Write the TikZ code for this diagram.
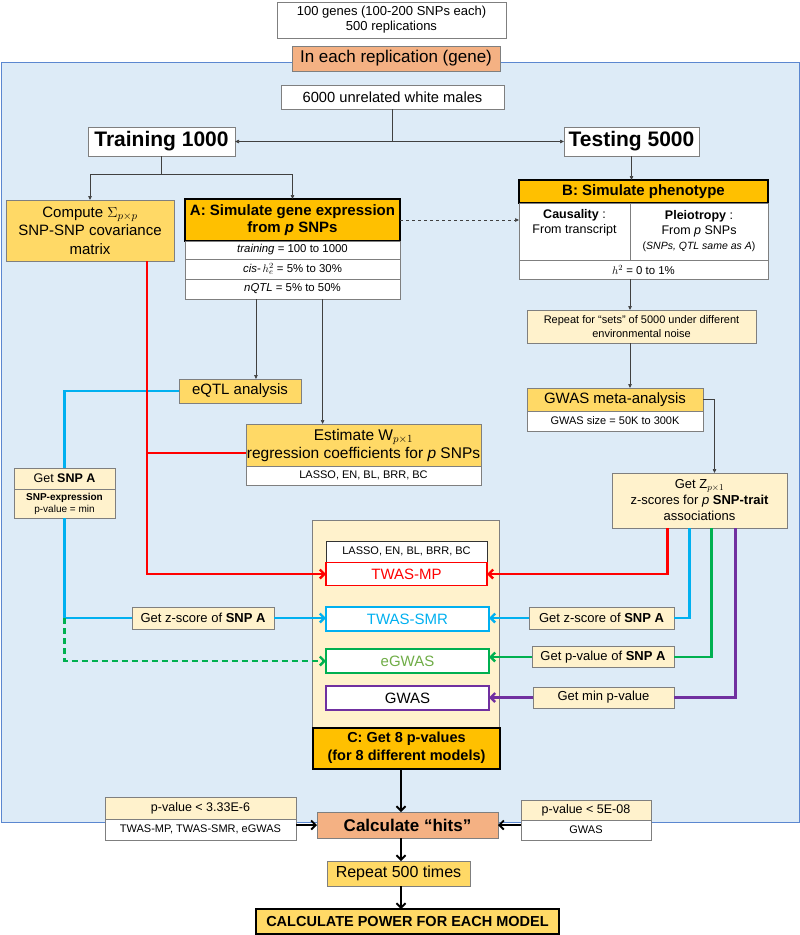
\documentclass[tikz,border=0pt]{standalone}
\usepackage{fontspec}
\setmainfont{Liberation Sans}
\usetikzlibrary{arrows.meta,calc,positioning}
\definecolor{bgblue}{HTML}{DDEBF7}
\definecolor{bgedge}{HTML}{5B87D0}
\definecolor{gold}{HTML}{FFD966}
\definecolor{amber}{HTML}{FFC000}
\definecolor{cream}{HTML}{FFF2CC}
\definecolor{salmon}{HTML}{F4B183}
\definecolor{edgegray}{HTML}{7F7F7F}
\definecolor{mpred}{HTML}{FF0000}
\definecolor{smrblue}{HTML}{00B0F0}
\definecolor{egreen}{HTML}{00B050}
\definecolor{etext}{HTML}{70AD47}
\definecolor{gpurple}{HTML}{7030A0}

\begin{document}
\begin{tikzpicture}[x=1pt,y=-1pt,
  fs/.style 2 args={font=\fontsize{#1}{#2}\selectfont},
  fsb/.style 2 args={font=\fontsize{#1}{#2}\selectfont\bfseries},
  box/.style={draw=edgegray,line width=0.9pt,inner sep=0pt,outer sep=0pt,align=center},
  heavy/.style={box,draw=black,line width=2pt},
  thinarr/.style={draw=black!75,line width=0.7pt,-{Triangle[length=4pt,width=3.5pt]}},
  thinline/.style={draw=black!75,line width=0.7pt},
  wire/.style={line width=2.4pt},
  barb/.style={-{Straight Barb[length=4.5pt,width=9pt]}},
  bigarr/.style={draw=black,line width=1.8pt,-{Straight Barb[length=4.5pt,width=9pt]}}]
\useasboundingbox (0,0) rectangle (800,935);
\node[box,fill=bgblue,draw=bgedge,line width=0.8pt,minimum width=798,minimum height=760] (frame) at (400,442) {};
\node[box,fill=white,minimum width=229,minimum height=36,fs={13}{15}] (genes) at (391.5,20) {100 genes (100-200 SNPs each)\\500 replications};
\node[box,fill=salmon,minimum width=208,minimum height=25,fs={17}{19}] (repl) at (396,58.5) {In each replication (gene)};
\node[box,fill=white,minimum width=223,minimum height=24,fs={14.7}{16}] (males) at (392.5,97) {6000 unrelated white males};
\node[box,fill=white,minimum width=147,minimum height=29,fsb={21}{23}] (training) at (161.5,141.5) {Training 1000};
\node[box,fill=white,minimum width=135,minimum height=29,fsb={21}{23}] (testing) at (631.5,141.5) {Testing 5000};
\node[box,fill=gold,minimum width=168,minimum height=61,fs={15}{18.5}] (compute) at (90,230.5) {Compute $\Sigma_{p\times p}$\\SNP-SNP covariance\\matrix};
\node[heavy,fill=amber,minimum width=215,minimum height=42,fsb={15}{17}] (ahead) at (292.5,220) {A: Simulate gene expression\\from \textit{p} SNPs};
\node[box,fill=white,minimum width=215,minimum height=18,fs={11.4}{12}] (arow1) at (292.5,250) {\textit{training} = 100 to 1000};
\node[box,fill=white,minimum width=215,minimum height=20,fs={11.4}{12}] (arow2) at (292.5,269) {\textit{cis}-\,$h^2_e$ = 5\% to 30\%};
\node[box,fill=white,minimum width=215,minimum height=20,fs={11.4}{12}] (arow3) at (292.5,289) {\textit{nQTL} = 5\% to 50\%};
\node[heavy,fill=amber,minimum width=249,minimum height=23,fsb={15}{17}] (bhead) at (643.5,191.5) {B: Simulate phenotype};
\node[box,fill=white,minimum width=111,minimum height=57,fs={12.5}{15}] (bcaus) at (574.5,231.5) {\textbf{Causality} :\\From transcript\\\strut};
\node[box,fill=white,minimum width=138,minimum height=57,fs={12.5}{15}] (bplei) at (699,231.5) {\textbf{Pleiotropy} :\\From \textit{p} SNPs\\{\fontsize{10.5}{12}\selectfont(\textit{SNPs, QTL same as A})}};
\node[box,fill=white,minimum width=249,minimum height=19,fs={11.4}{13}] (brow) at (643.5,269.5) {$h^2$ = 0 to 1\%};
\node[box,fill=cream,minimum width=229,minimum height=33,fs={11}{14}] (rep) at (641.5,326.5) {Repeat for “sets” of 5000 under different\\environmental noise};
\node[box,fill=gold,minimum width=176,minimum height=23,fs={15}{17}] (meta1) at (615,399.5) {GWAS meta-analysis};
\node[box,fill=white,minimum width=176,minimum height=20,fs={11}{13}] (meta2) at (615,421) {GWAS size = 50K to 300K};
\node[box,fill=cream,minimum width=175,minimum height=55,fs={13}{16}] (zbox) at (699.5,500.5) {Get Z$_{p\times1}$\\z-scores for \textit{p} \textbf{SNP-trait}\\associations};
\node[box,fill=gold,minimum width=122,minimum height=24,fs={15}{17}] (eqtl) at (240,391) {eQTL analysis};
\node[box,fill=gold,minimum width=235,minimum height=42,fs={15.5}{18}] (est1) at (363.5,445) {Estimate W$_{p\times1}$\\regression coefficients for \textit{p} SNPs};
\node[box,fill=white,minimum width=235,minimum height=19,fs={11}{13}] (est2) at (363.5,475.5) {LASSO, EN, BL, BRR, BC};
\node[box,fill=cream,minimum width=101,minimum height=21,fs={12.5}{15}] (snpa1) at (64.5,478.5) {Get \textbf{SNP A}};
\node[box,fill=cream,minimum width=101,minimum height=29,fs={10}{12}] (snpa2) at (64.5,503.5) {\textbf{SNP-expression}\\p-value = min};
\node[box,fill=cream,minimum width=187,minimum height=207] (panel) at (405.5,623.5) {};
\node[box,fill=white,draw=black!80,minimum width=161,minimum height=21,fs={11}{13}] (lasso) at (406.5,551.5) {LASSO, EN, BL, BRR, BC};
\node[box,fill=white,draw=mpred,line width=1.5pt,text=mpred,minimum width=161,minimum height=23,fs={15}{17}] (twmp) at (406.5,574) {TWAS-MP};
\node[box,fill=white,draw=smrblue,line width=1.5pt,text=smrblue,minimum width=163,minimum height=24,fs={15}{17}] (smr) at (407.5,619) {TWAS-SMR};
\node[box,fill=white,draw=egreen,line width=1.5pt,text=etext,minimum width=163,minimum height=24,fs={15}{17}] (egwas) at (407.5,661) {eGWAS};
\node[box,fill=white,draw=gpurple,line width=1.5pt,minimum width=163,minimum height=24,fs={15}{17}] (gwas) at (407.5,698) {GWAS};
\node[heavy,fill=amber,minimum width=187,minimum height=41,fsb={14.5}{18}] (cbox) at (406.5,748) {C: Get 8 p-values\\(for 8 different models)};
\node[box,fill=cream,minimum width=142,minimum height=22,fs={13}{15}] (zl) at (203,618) {Get z-score of \textbf{SNP A}};
\node[box,fill=cream,minimum width=145,minimum height=22,fs={13}{15}] (zr) at (601.5,618) {Get z-score of \textbf{SNP A}};
\node[box,fill=cream,minimum width=142,minimum height=21,fs={13}{15}] (pr) at (603,657) {Get p-value of \textbf{SNP A}};
\node[box,fill=cream,minimum width=141,minimum height=21,fs={13}{15}] (mr) at (603.5,697.5) {Get min p-value};
\node[box,fill=salmon,minimum width=181,minimum height=26,fsb={17}{19}] (calc) at (407.5,825) {Calculate “hits”};
\node[box,fill=cream,minimum width=191,minimum height=22,fs={12.5}{15}] (lp1) at (200.5,808) {p-value < 3.33E-6};
\node[box,fill=white,minimum width=191,minimum height=21,fs={11}{13}] (lp2) at (200.5,829.5) {TWAS-MP, TWAS-SMR, eGWAS};
\node[box,fill=cream,minimum width=130,minimum height=20,fs={12.5}{15}] (rp1) at (586,810) {p-value < 5E-08};
\node[box,fill=white,minimum width=130,minimum height=20,fs={11}{13}] (rp2) at (586,830) {GWAS};
\node[box,fill=gold,minimum width=143,minimum height=25,fs={16}{18}] (rep500) at (398.5,873.5) {Repeat 500 times};
\node[heavy,fill=gold,minimum width=303,minimum height=25,fsb={14.5}{17}] (power) at (407.5,921.5) {CALCULATE POWER FOR EACH MODEL};
\coordinate (split) at (males.south |- training.east);
\coordinate (tsplit) at ($(training.south)+(0,18)$);
\coordinate (aleft) at ($(arow3.south west)!0.33!(arow3.south east)$);
\coordinate (aright) at ($(arow3.south west)!0.64!(arow3.south east)$);
\coordinate (spine) at (401,0);
\draw[thinline] (males.south) -- (split);
\draw[thinarr] (split) -- (training.east);
\draw[thinarr] (split) -- (testing.west);
\draw[thinline] (training.south) -- (tsplit);
\draw[thinarr] (tsplit) -| (compute.north);
\draw[thinarr] (tsplit) -| (ahead.north);
\draw[thinarr] (testing.south) -- (testing.south |- bhead.north);
\draw[thinarr,dashed] (ahead.east) -- (ahead.east -| bcaus.west);
\draw[thinarr] (bcaus.east |- brow.south) -- (bcaus.east |- rep.north);
\draw[thinarr] (bcaus.east |- rep.south) -- (bcaus.east |- meta1.north);
\draw[thinarr] (meta1.east) -| ([xshift=15pt]zbox.north);
\draw[thinarr] (aleft) -- (aleft |- eqtl.north);
\draw[thinarr] (aright) -- (aright |- est1.north);
\draw[wire,smrblue] (eqtl.west) -| (snpa1.north);
\draw[wire,smrblue] (snpa2.south) |- (zl.west);
\draw[wire,smrblue,barb] (zl.east) -- (zl.east -| smr.west);
\draw[wire,egreen,barb,dash pattern=on 6pt off 4pt] (snpa2.south |- zl.west) |- (egwas.west);
\draw[wire,mpred,barb] ([xshift=57pt]compute.south) |- (twmp.west);
\draw[wire,mpred] ([xshift=57pt]compute.south |- est1.west) ++(0,8) -- ([yshift=-8pt]est1.west);
\draw[wire,mpred,barb] ([xshift=-32pt]zbox.south) |- (twmp.east);
\draw[wire,smrblue] ([xshift=-10pt]zbox.south) |- (zr.east);
\draw[wire,smrblue,barb] (zr.west) -- (zr.west -| smr.east);
\draw[wire,egreen] ([xshift=12pt]zbox.south) |- (pr.east);
\draw[wire,egreen,barb] (pr.west) -- (pr.west -| egwas.east);
\draw[wire,gpurple] ([xshift=36pt]zbox.south) |- (mr.east);
\draw[wire,gpurple,barb] (mr.west) -- (mr.west -| gwas.east);
\draw[bigarr] (cbox.south -| spine) -- (calc.north -| spine);
\draw[bigarr] (calc.south -| spine) -- (rep500.north -| spine);
\draw[bigarr] (rep500.south -| spine) -- (power.north -| spine);
\draw[bigarr] (lp2.north east |- calc.west) -- (calc.west);
\draw[bigarr] (rp2.north west |- calc.east) -- (calc.east);
\end{tikzpicture}
\end{document}
